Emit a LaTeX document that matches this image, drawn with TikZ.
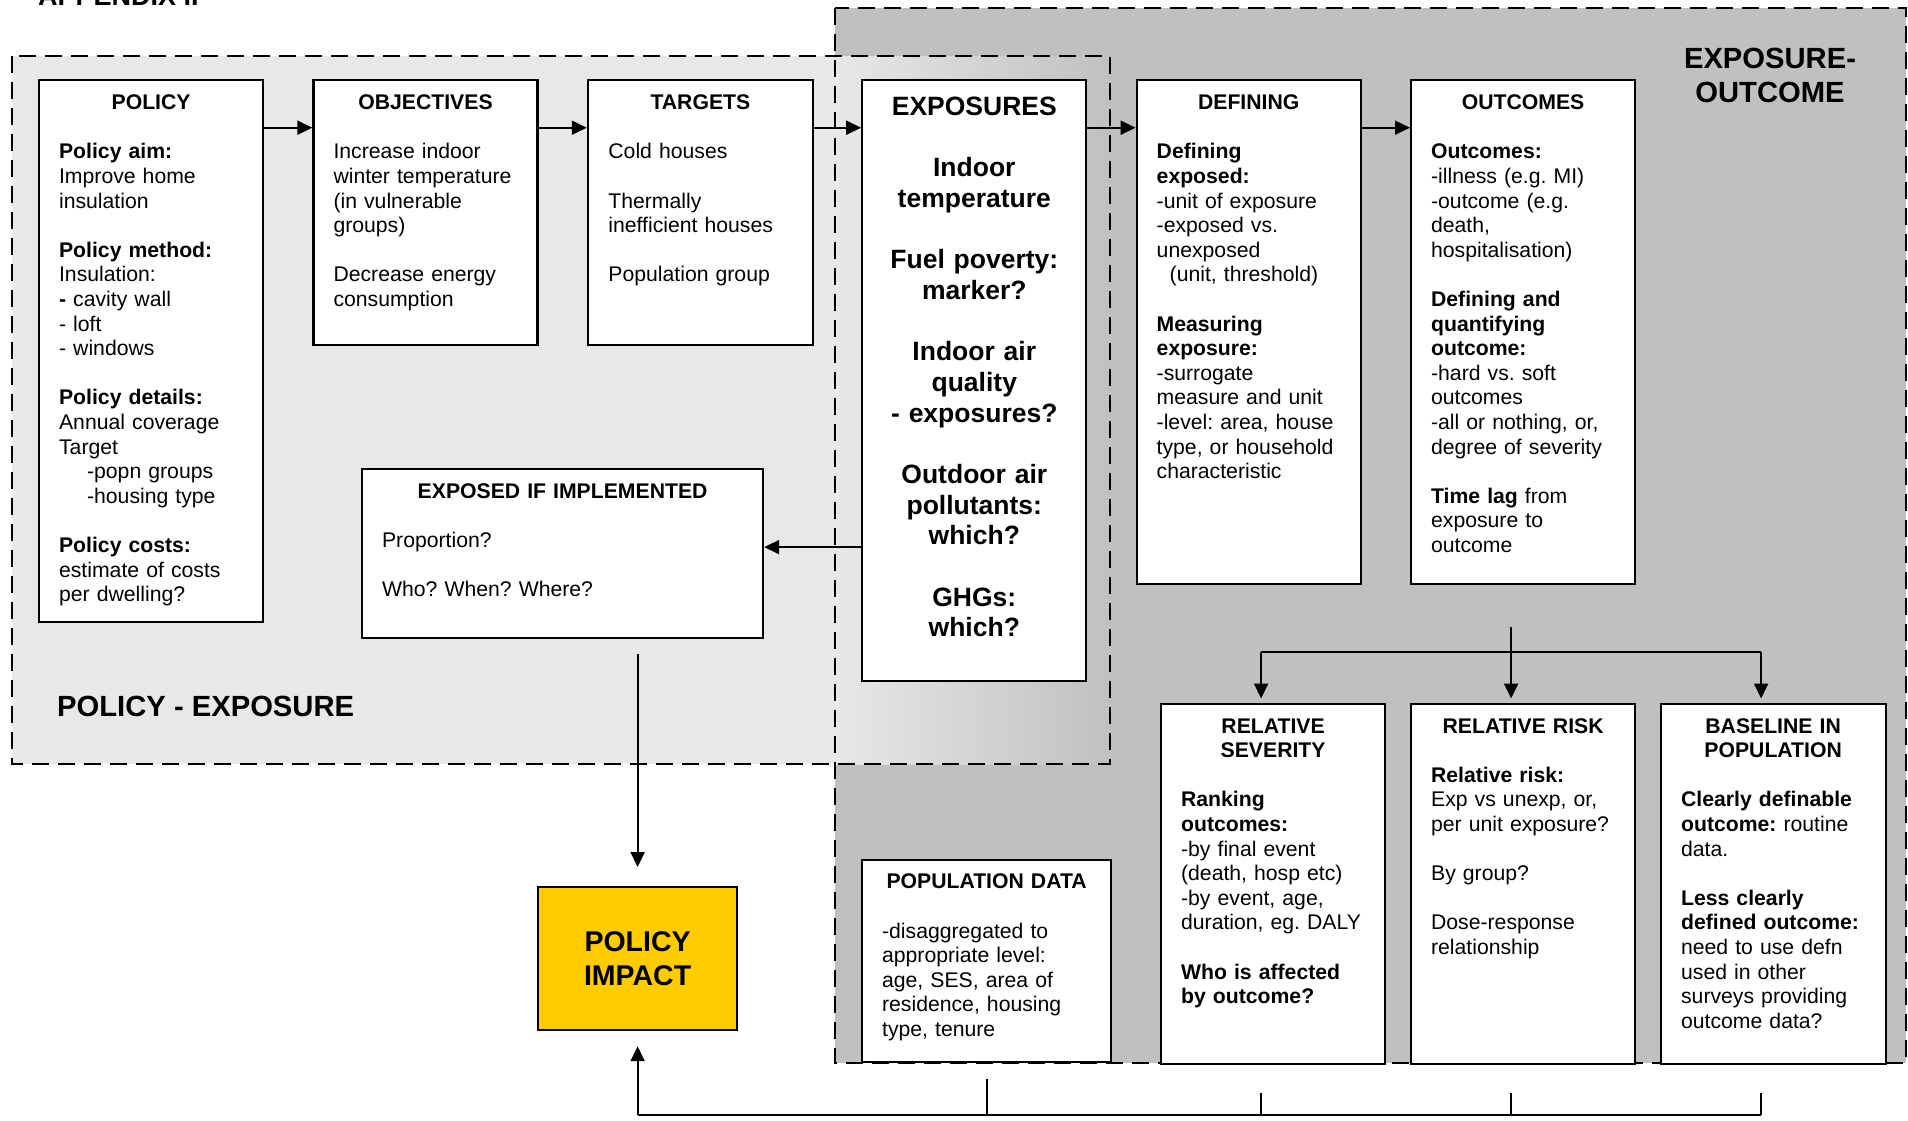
\documentclass[tikz,border=0pt]{standalone}
\usepackage{fontspec}
\setmainfont{Liberation Sans}
\usetikzlibrary{arrows.meta}

\definecolor{zonelight}{HTML}{E8E8E8}
\definecolor{zonedark}{HTML}{C0C0C0}
\definecolor{impactyellow}{HTML}{FFCC00}

\frenchspacing
\newcommand{\hd}[1]{\makebox[\hsize]{\strut\bfseries #1}}
\newcommand{\emptyln}{\\[\baselineskip]}

\tikzset{
  box/.style={draw, line width=2.2pt, fill=white, anchor=north west, inner sep=0pt},
  txt/.style={anchor=north, inner sep=0pt, align=left, text width=184pt,
    font=\fontsize{21.2}{24.6}\selectfont},
  bigtxt/.style={anchor=north, inner sep=0pt, align=center, text width=200pt,
    font=\fontsize{26.5}{30.66}\selectfont\bfseries},
  zonelabel/.style={inner sep=0pt, font=\fontsize{29.2}{34}\selectfont\bfseries},
  zone/.style={dash pattern=on 17pt off 9pt, line width=1.8pt},
  arr/.style={-{Triangle[length=15pt,width=14pt]}, line width=1.9pt},
  line/.style={line width=1.9pt}
}

\begin{document}
\begin{tikzpicture}[x=1pt, y=-1pt]

\useasboundingbox (0,0) rectangle (1908,1120);
\fill[white] (0,0) rectangle (1908,1120);

% zones
\fill[zonelight] (12,56) rectangle (1110,764);
\fill[zonedark] (835,8) rectangle (1906,1063);
\shade[left color=zonelight, right color=zonedark] (835,56) rectangle (1110,764);
\draw[zone] (12,56) rectangle (1110,764);
\draw[zone] (835,8) rectangle (1906,1063);

\node[anchor=base west, inner sep=0pt, font=\fontsize{27}{32}\selectfont\bfseries] (appx) at (38,5) {APPENDIX II};
\node[zonelabel, anchor=west] (pelabel) at (57,706) {POLICY - EXPOSURE};
\node[zonelabel, align=center] (eolabel) at (1770,75.5) {EXPOSURE-\\OUTCOME};

% top row
\node[box, minimum width=224pt, minimum height=542pt] (policy) at (38,79) {};
\node[box, minimum width=224pt, minimum height=265pt] (obj) at (312.4,79) {};
\node[box, minimum width=225pt, minimum height=265pt] (targ) at (586.8,79) {};
\node[box, minimum width=224pt, minimum height=601pt] (expo) at (861.2,79) {};
\node[box, minimum width=224pt, minimum height=504pt] (defn) at (1135.6,79) {};
\node[box, minimum width=224pt, minimum height=504pt] (outc) at (1410,79) {};

\node[txt] (policy-t) at ([yshift=-13.3pt]policy.north) {\hd{POLICY}\emptyln
\textbf{Policy aim:}\\
Improve home\\
insulation\emptyln
\textbf{Policy method:}\\
Insulation:\\
\textbf{-} cavity wall\\
- loft\\
- windows\emptyln
\textbf{Policy details:}\\
Annual coverage\\
Target\\
\hspace*{28pt}-popn groups\\
\hspace*{28pt}-housing type\emptyln
\textbf{Policy costs:}\\
estimate of costs\\
per dwelling?};

\node[txt] (obj-t) at ([yshift=-13.3pt]obj.north) {\hd{OBJECTIVES}\emptyln
Increase indoor\\
winter temperature\\
(in vulnerable\\
groups)\emptyln
Decrease energy\\
consumption};

\node[txt] (targ-t) at ([yshift=-13.3pt]targ.north) {\hd{TARGETS}\emptyln
Cold houses\emptyln
Thermally\\
inefficient houses\emptyln
Population group};

\node[bigtxt] (expo-t) at ([yshift=-14.9pt]expo.north) {\strut EXPOSURES\emptyln
Indoor\\
temperature\emptyln
Fuel poverty:\\
marker?\emptyln
Indoor air\\
quality\\
- exposures?\emptyln
Outdoor air\\
pollutants:\\
which?\emptyln
GHGs:\\
which?};

\node[txt] (defn-t) at ([yshift=-13.3pt]defn.north) {\hd{DEFINING}\emptyln
\textbf{Defining}\\
\textbf{exposed:}\\
-unit of exposure\\
-exposed vs.\\
unexposed\\
\hspace*{13pt}(unit, threshold)\emptyln
\textbf{Measuring}\\
\textbf{exposure:}\\
-surrogate\\
measure and unit\\
-level: area, house\\
type, or household\\
characteristic};

\node[txt] (outc-t) at ([yshift=-13.3pt]outc.north) {\hd{OUTCOMES}\emptyln
\textbf{Outcomes:}\\
-illness (e.g. MI)\\
-outcome (e.g.\\
death,\\
hospitalisation)\emptyln
\textbf{Defining and}\\
\textbf{quantifying}\\
\textbf{outcome:}\\
-hard vs. soft\\
outcomes\\
-all or nothing, or,\\
degree of severity\emptyln
\textbf{Time lag} from\\
exposure to\\
outcome};

% middle and bottom
\node[box, minimum width=401pt, minimum height=169pt] (exposed) at (361,468) {};
\node[txt, text width=361pt] (exposed-t) at ([yshift=-12.8pt]exposed.north) {\hd{EXPOSED IF IMPLEMENTED}\emptyln
Proportion?\emptyln
Who? When? Where?};

\node[box, fill=impactyellow, minimum width=199pt, minimum height=143pt, align=center,
  font=\fontsize{28.5}{34}\selectfont\bfseries] (impact) at (537,886) {POLICY\\IMPACT};

\node[box, minimum width=249pt, minimum height=202pt] (pop) at (861,859) {};
\node[txt, text width=209pt] (pop-t) at ([yshift=-12.4pt]pop.north) {\hd{POPULATION DATA}\emptyln
-disaggregated to\\
appropriate level:\\
age, SES, area of\\
residence, housing\\
type, tenure};

\node[box, minimum width=224pt, minimum height=360.5pt] (sev) at (1160,702.5) {};
\node[box, minimum width=224pt, minimum height=360.5pt] (risk) at (1410,702.5) {};
\node[box, minimum width=225pt, minimum height=360.5pt] (base) at (1659.5,702.5) {};

\node[txt] (sev-t) at ([yshift=-13.1pt]sev.north) {\hd{RELATIVE}\\
\hd{SEVERITY}\emptyln
\textbf{Ranking}\\
\textbf{outcomes:}\\
-by final event\\
(death, hosp etc)\\
-by event, age,\\
duration, eg. DALY\emptyln
\textbf{Who is affected}\\
\textbf{by outcome?}};

\node[txt] (risk-t) at ([yshift=-13.1pt]risk.north) {\hd{RELATIVE RISK}\emptyln
\textbf{Relative risk:}\\
Exp vs unexp, or,\\
per unit exposure?\emptyln
By group?\emptyln
Dose-response\\
relationship};

\node[txt] (base-t) at ([yshift=-13.1pt]base.north) {\hd{BASELINE IN}\\
\hd{POPULATION}\emptyln
\textbf{Clearly definable}\\
\textbf{outcome:} routine\\
data.\emptyln
\textbf{Less clearly}\\
\textbf{defined outcome:}\\
need to use defn\\
used in other\\
surveys providing\\
outcome data?};

% chain along the top
\draw[arr] ([yshift=-48.7pt]policy.north east) -- ([yshift=-48.7pt]obj.north west);
\draw[arr] ([yshift=-48.7pt]obj.north east) -- ([yshift=-48.7pt]targ.north west);
\draw[arr] ([yshift=-48.7pt]targ.north east) -- ([yshift=-48.7pt]expo.north west);
\draw[arr] ([yshift=-48.7pt]expo.north east) -- ([yshift=-48.7pt]defn.north west);
\draw[arr] ([yshift=-48.7pt]defn.north east) -- ([yshift=-48.7pt]outc.north west);

\draw[arr] ([yshift=6.5pt]exposed.east -| expo.west) -- ([yshift=6.5pt]exposed.east);
\draw[arr, shorten <=15pt, shorten >=19pt] (impact.north |- exposed.south) -- (impact.north);

% fork to the three lower boxes
\coordinate (fork) at (1510,652);
\draw[arr, shorten >=4pt] ([xshift=-12pt, yshift=-42pt]outc.south) -- ([xshift=-12pt]risk.north);
\draw[line] ([xshift=-12pt]sev.north |- fork) -- ([xshift=-12pt]base.north |- fork);
\draw[arr, shorten >=4pt] ([xshift=-12pt]sev.north |- fork) -- ([xshift=-12pt]sev.north);
\draw[arr, shorten >=4pt] ([xshift=-12pt]base.north |- fork) -- ([xshift=-12pt]base.north);

% bus back to policy impact
\coordinate (bus) at (0,1115);
\draw[arr, shorten >=15pt] (impact.south |- bus) -- (impact.south);
\draw[line] (impact.south |- bus) -- ([xshift=-12pt]base.south |- bus);
\draw[line] (pop.south |- bus) -- ([yshift=-16pt]pop.south);
\draw[line] ([xshift=-12pt]sev.south |- bus) -- ([xshift=-12pt, yshift=-28pt]sev.south);
\draw[line] ([xshift=-12pt]risk.south |- bus) -- ([xshift=-12pt, yshift=-28pt]risk.south);
\draw[line] ([xshift=-12pt]base.south |- bus) -- ([xshift=-12pt, yshift=-28pt]base.south);

\end{tikzpicture}
\end{document}
